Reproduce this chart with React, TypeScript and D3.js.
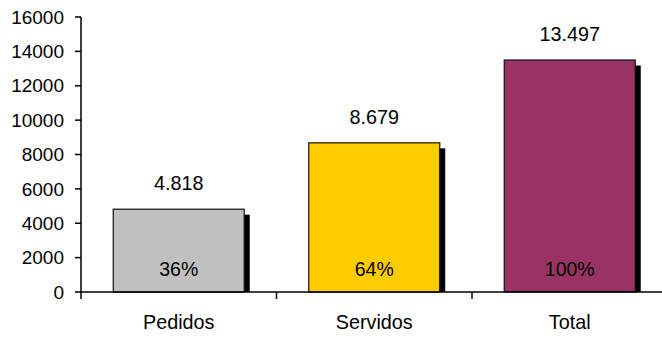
import React from "react";
import * as d3 from "d3";

const categories = ["Pedidos", "Servidos", "Total"];
const values = [4818, 8679, 13497];
const valueLabels = ["4.818", "8.679", "13.497"];
const percentLabels = ["36%", "64%", "100%"];
const colors = ["#C0C0C0", "#FFCC00", "#993366"];
const yTicks = [0, 2000, 4000, 6000, 8000, 10000, 12000, 14000, 16000];

const W = 662;
const H = 338;
const FONT = "'Liberation Sans', Arial, sans-serif";

export default function App() {
  const x = d3.scaleBand<string>().domain(categories).range([81, 667.5]).paddingInner(0.33).paddingOuter(0.165);
  const y = d3.scaleLinear().domain([0, 16000]).range([292, 17]);
  const bw = x.bandwidth();
  const step = x.step();
  const boundaries = d3.range(categories.length + 1).map((i) => 81 + i * step);
  const shadow = 5.5;

  return (
    <svg width={W} height={H} style={{ position: "absolute", left: 0, top: 0 }} fontFamily={FONT}>
      <rect x={0} y={0} width={W} height={H} fill="#fff" />
      {categories.map((c, i) => {
        const x0 = x(c)!;
        const yt = y(values[i]);
        return (
          <g key={c}>
            <rect x={x0 + shadow} y={yt + shadow} width={bw} height={y(0) - yt - shadow} fill="#000" />
            <rect x={x0} y={yt} width={bw} height={y(0) - yt} fill={colors[i]} stroke="#111" strokeWidth={1.2} />
            <text x={x0 + bw / 2} y={yt - 19} textAnchor="middle" fontSize={19.8} fill="#000">
              {valueLabels[i]}
            </text>
            <text x={x0 + bw / 2} y={276} textAnchor="middle" fontSize={19.5} fill="#000">
              {percentLabels[i]}
            </text>
            <text x={x0 + bw / 2} y={329} textAnchor="middle" fontSize={19.8} fill="#000">
              {c}
            </text>
          </g>
        );
      })}
      {/* x axis */}
      <line x1={81} x2={W} y1={y(0)} y2={y(0)} stroke="#000" strokeWidth={1.5} />
      {boundaries.map((b, i) => (
        <line key={i} x1={b} x2={b} y1={y(0)} y2={y(0) + 7} stroke="#000" strokeWidth={1.5} />
      ))}
      {/* y axis */}
      <line x1={81} x2={81} y1={y(16000)} y2={y(0)} stroke="#000" strokeWidth={1.5} />
      {yTicks.map((t) => (
        <g key={t}>
          <line x1={75} x2={81} y1={y(t)} y2={y(t)} stroke="#000" strokeWidth={1.5} />
          <text x={64} y={y(t)} dy="0.35em" textAnchor="end" fontSize={19} fill="#000">
            {t}
          </text>
        </g>
      ))}
    </svg>
  );
}
